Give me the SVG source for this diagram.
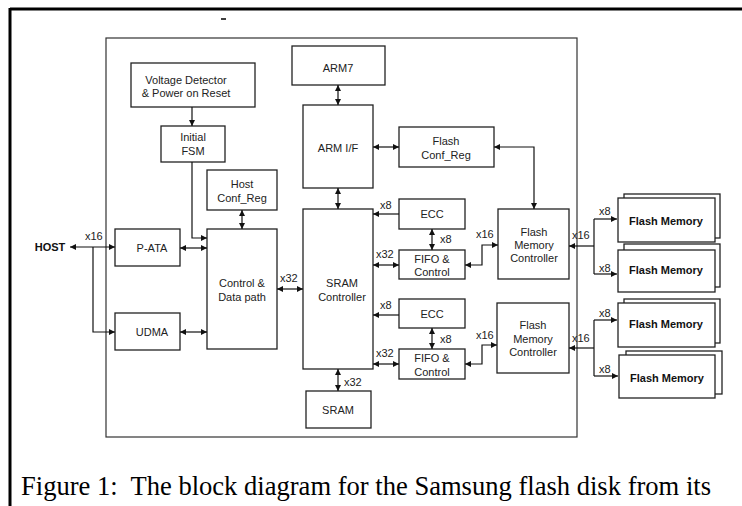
<svg xmlns="http://www.w3.org/2000/svg" width="742" height="506" viewBox="0 0 742 506">
<defs>
<marker id="ah" markerUnits="userSpaceOnUse" markerWidth="7" markerHeight="6" refX="6" refY="3" orient="auto-start-reverse">
<path d="M0,0 L6,3 L0,6 z" fill="#111"/>
</marker>
<style>
.b{fill:#fff;stroke:#222;stroke-width:1.3}
.t{font-family:"Liberation Sans",Arial,sans-serif;font-size:11px;fill:#222;text-anchor:middle}
.tb{font-family:"Liberation Sans",Arial,sans-serif;font-size:11px;font-weight:bold;fill:#111;text-anchor:middle}
.l{font-family:"Liberation Sans",Arial,sans-serif;font-size:11px;fill:#222}
.cap{font-family:"Liberation Serif","Times New Roman",serif;font-size:26.5px;fill:#000;white-space:pre}
.c{fill:none;stroke:#111;stroke-width:1.2}
.d{fill:none;stroke:#111;stroke-width:1.2;marker-start:url(#ah);marker-end:url(#ah)}
.e{fill:none;stroke:#111;stroke-width:1.2;marker-end:url(#ah)}
</style>
</defs>
<rect width="742" height="506" fill="#fff"/>
<g id="frame">
<path d="M10,9 H742 M10,8 V506" fill="none" stroke="#000" stroke-width="3"/>
<path d="M221,19 H226" stroke="#000" stroke-width="1.5"/>
<rect x="106" y="38" width="471" height="399" fill="none" stroke="#333" stroke-width="1.2"/>
</g>
<g id="voltage"><rect class="b" x="131" y="63" width="124" height="44"/><text class="t" x="186" y="84">Voltage Detector</text><text class="t" x="186" y="97">&amp; Power on Reset</text></g>
<g id="fsm"><rect class="b" x="161" y="126" width="64" height="36"/><text class="t" x="193" y="141">Initial</text><text class="t" x="193" y="155">FSM</text></g>
<g id="hostconf"><rect class="b" x="207" y="170" width="70" height="40"/><text class="t" x="242" y="188">Host</text><text class="t" x="242" y="202">Conf_Reg</text></g>
<g id="host"><text class="tb" x="50" y="251">HOST</text></g>
<g id="pata"><rect class="b" x="115" y="229" width="65" height="37"/><text class="t" x="152" y="252">P-ATA</text></g>
<g id="udma"><rect class="b" x="115" y="313" width="65" height="37"/><text class="t" x="152" y="336">UDMA</text></g>
<g id="control"><rect class="b" x="207" y="229" width="70" height="120"/><text class="t" x="242" y="287">Control &amp;</text><text class="t" x="242" y="301">Data path</text></g>
<g id="arm7"><rect class="b" x="292" y="46" width="93" height="39"/><text class="t" x="338" y="72">ARM7</text></g>
<g id="armif"><rect class="b" x="303" y="105" width="70" height="83"/><text class="t" x="338" y="152">ARM I/F</text></g>
<g id="flashconf"><rect class="b" x="399" y="127" width="95" height="40"/><text class="t" x="446" y="145">Flash</text><text class="t" x="446" y="159">Conf_Reg</text></g>
<g id="sramctrl"><rect class="b" x="303" y="209" width="70" height="160"/><text class="t" x="342" y="287">SRAM</text><text class="t" x="342" y="301">Controller</text></g>
<g id="sram"><rect class="b" x="306" y="391" width="65" height="37"/><text class="t" x="338" y="414">SRAM</text></g>
<g id="ecc1"><rect class="b" x="399" y="199" width="66" height="30"/><text class="t" x="432" y="218">ECC</text></g>
<g id="fifo1"><rect class="b" x="399" y="250" width="66" height="29"/><text class="t" x="432" y="263">FIFO &amp;</text><text class="t" x="432" y="276">Control</text></g>
<g id="ecc2"><rect class="b" x="399" y="299" width="66" height="29"/><text class="t" x="432" y="318">ECC</text></g>
<g id="fifo2"><rect class="b" x="399" y="349" width="66" height="30"/><text class="t" x="432" y="362">FIFO &amp;</text><text class="t" x="432" y="376">Control</text></g>
<g id="fmc1"><rect class="b" x="498" y="209" width="71" height="70"/><text class="t" x="534" y="236">Flash</text><text class="t" x="534" y="249">Memory</text><text class="t" x="534" y="262">Controller</text></g>
<g id="fmc2"><rect class="b" x="497" y="303" width="72" height="70"/><text class="t" x="533" y="329">Flash</text><text class="t" x="533" y="343">Memory</text><text class="t" x="533" y="356">Controller</text></g>
<g id="flash1"><rect class="b" x="624" y="194" width="96" height="44"/><rect class="b" x="618" y="198" width="97" height="44"/><text class="tb" x="666" y="225">Flash Memory</text></g>
<g id="flash2"><rect class="b" x="624" y="244" width="96" height="43"/><rect class="b" x="618" y="250" width="97" height="42"/><text class="tb" x="666" y="274">Flash Memory</text></g>
<g id="flash3"><rect class="b" x="624" y="299" width="96" height="44"/><rect class="b" x="618" y="303" width="97" height="44"/><text class="tb" x="666" y="328">Flash Memory</text></g>
<g id="flash4"><rect class="b" x="626" y="351" width="96" height="43"/><rect class="b" x="619" y="355" width="96" height="43"/><text class="tb" x="667" y="382">Flash Memory</text></g>
<g id="connectors">
<path class="e" d="M192,107 V126"/>
<path class="e" d="M192,162 V238 H207"/>
<path class="d" d="M242,210 V229"/>
<path class="d" d="M70,247 H115"/>
<path class="e" d="M93,247 V332 H115"/>
<path class="d" d="M180,248 H207"/>
<path class="d" d="M180,332 H207"/>
<path class="d" d="M277,289 H303"/>
<path class="d" d="M338,85 V105"/>
<path class="d" d="M338,188 V209"/>
<path class="d" d="M373,147 H399"/>
<path class="d" d="M494,147 H534 V209"/>
<path class="e" d="M399,214 H373"/>
<path class="d" d="M432,229 V250"/>
<path class="d" d="M373,265 H399"/>
<path class="d" d="M465,265 H482 V245 H498"/>
<path class="e" d="M399,315 H373"/>
<path class="d" d="M432,328 V349"/>
<path class="d" d="M373,364 H399"/>
<path class="d" d="M465,364 H482 V345 H497"/>
<path class="d" d="M338,369 V391"/>
<path class="e" d="M594,246 H569"/>
<path class="c" d="M594,219 V274"/>
<path class="e" d="M594,219 H617"/>
<path class="e" d="M594,274 H617"/>
<path class="e" d="M594,348 H569"/>
<path class="c" d="M594,320 V376"/>
<path class="e" d="M594,320 H617"/>
<path class="e" d="M594,376 H618"/>
</g>
<g id="labels">
<text class="l" x="85" y="240">x16</text>
<text class="l" x="280" y="282">x32</text>
<text class="l" x="380" y="209">x8</text>
<text class="l" x="440" y="243">x8</text>
<text class="l" x="376" y="258">x32</text>
<text class="l" x="476" y="238">x16</text>
<text class="l" x="380" y="309">x8</text>
<text class="l" x="440" y="343">x8</text>
<text class="l" x="376" y="357">x32</text>
<text class="l" x="476" y="339">x16</text>
<text class="l" x="344" y="386">x32</text>
<text class="l" x="572" y="239">x16</text>
<text class="l" x="599" y="215">x8</text>
<text class="l" x="599" y="272">x8</text>
<text class="l" x="572" y="342">x16</text>
<text class="l" x="599" y="317">x8</text>
<text class="l" x="599" y="373">x8</text>
</g>
<text class="cap" x="21" y="495" textLength="690" lengthAdjust="spacingAndGlyphs" xml:space="preserve">Figure 1:  The block diagram for the Samsung flash disk from its</text>
</svg>
